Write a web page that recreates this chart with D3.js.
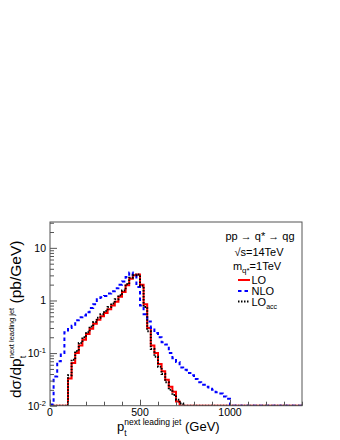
<!DOCTYPE html>
<html><head>
<meta charset="utf-8">
<script src="https://d3js.org/d3.v7.min.js"></script>
<style>
  body { margin: 0; background: #fff; }
  text { font-family: "Liberation Sans", Arial, sans-serif; fill: #000; }
</style>
</head>
<body>
<div id="chart"></div>
<script>
// histogram bins: 20 GeV wide, 0 .. 1400 GeV (lower edges)
var binLow = d3.range(0, 1400, 20);
var xMax = 1400;

// dsigma/dpt (pb/GeV), one value per bin
var lo = [0, 0, 0, 0, 0, 0.033, 0.065, 0.1, 0.14, 0.18,
  0.23, 0.29, 0.36, 0.43, 0.5, 0.58, 0.68, 0.8, 0.95, 1.18,
  1.45, 1.95, 2.6, 3.0, 3.1, 2.0, 0.85, 0.3, 0.14, 0.1,
  0.062, 0.045, 0.031, 0.023, 0.0185, 0.012, 0, 0, 0, 0,
  0, 0, 0, 0, 0, 0, 0, 0, 0, 0,
  0, 0, 0, 0, 0, 0, 0, 0, 0, 0,
  0, 0, 0, 0, 0, 0, 0, 0, 0, 0];

var nlo = [0.0105, 0.036, 0.07, 0.1, 0.25, 0.3, 0.33, 0.42, 0.48, 0.52,
  0.6, 0.72, 0.85, 1.05, 1.15, 1.22, 1.35, 1.5, 1.7, 2.0,
  2.3, 2.8, 3.4, 3.0, 1.8, 0.8, 0.55, 0.4, 0.3, 0.24,
  0.2, 0.16, 0.145, 0.1, 0.08, 0.068, 0.053, 0.048, 0.042, 0.038,
  0.032, 0.028, 0.025, 0.023, 0.021, 0.02, 0.018, 0.017, 0.015, 0.0135,
  0, 0, 0, 0, 0, 0, 0, 0, 0, 0,
  0, 0, 0, 0, 0, 0, 0, 0, 0, 0];

var loAcc = [0, 0, 0, 0, 0, 0.038, 0.075, 0.11, 0.155, 0.2,
  0.25, 0.32, 0.39, 0.47, 0.55, 0.63, 0.75, 0.88, 1.05, 1.25,
  1.55, 2.05, 2.7, 3.0, 3.1, 1.9, 0.75, 0.26, 0.12, 0.085,
  0.055, 0.04, 0.028, 0.02, 0.016, 0.013, 0.011, 0, 0, 0,
  0, 0, 0, 0, 0, 0, 0, 0, 0, 0,
  0, 0, 0, 0, 0, 0, 0, 0, 0, 0,
  0, 0, 0, 0, 0, 0, 0, 0, 0, 0];

var yMin = 0.01, yMax = 31;
var xTicks = [0, 500, 1000];
var xTickLabels = ["0", "500", "1000"];
var yTicks = [0.01, 0.1, 1, 10];
var yTickLabels = [["10", "-2"], ["10", "-1"], ["1", ""], ["10", ""]];

var W = 340, H = 440;
var frame = {left: 50, right: 302, top: 222, bottom: 405.7};

var svg = d3.select("#chart").append("svg")
    .attr("width", W)
    .attr("height", H);

var x = d3.scaleLinear().domain([0, xMax]).range([frame.left, frame.right]);
var y = d3.scaleLog().domain([yMin, yMax]).range([frame.bottom, frame.top]);

// minor tick positions
var yMinor = [];
[0.01, 0.1, 1, 10].forEach(function(d) {
  for (var k = 2; k <= 9; k++) if (d * k < yMax) yMinor.push(d * k);
});
var xMinor = d3.range(0, xMax + 1, 100).filter(function(d) { return xTicks.indexOf(d) < 0; });

svg.append("clipPath").attr("id", "clip")
  .append("rect")
    .attr("x", frame.left).attr("y", frame.top - 2)
    .attr("width", frame.right - frame.left).attr("height", frame.bottom - frame.top + 2);

// histograms
function histPoints(vals) {
  var pts = binLow.map(function(b, i) { return [b, Math.max(vals[i], yMin)]; });
  pts.push([xMax, Math.max(vals[vals.length - 1], yMin)]);
  return pts;
}
var line = d3.line()
    .x(function(d) { return x(d[0]); })
    .y(function(d) { return y(d[1]); })
    .curve(d3.curveStepAfter);

var series = [
  {vals: lo, color: "#ff0000", dash: null},
  {vals: nlo, color: "#0000ff", dash: "3.5,3"},
  {vals: loAcc, color: "#000000", dash: "1.5,1.5"}
];
var g = svg.append("g").attr("clip-path", "url(#clip)");
series.forEach(function(s) {
  g.append("path")
    .datum(histPoints(s.vals))
    .attr("fill", "none")
    .attr("stroke", s.color)
    .attr("stroke-width", 2)
    .attr("stroke-dasharray", s.dash)
    .attr("d", line);
});

// frame
svg.append("rect")
  .attr("x", frame.left).attr("y", frame.top)
  .attr("width", frame.right - frame.left).attr("height", frame.bottom - frame.top)
  .attr("fill", "none").attr("stroke", "#555").attr("stroke-width", 1);

// y axis ticks (inward)
var yAxis = svg.append("g").attr("transform", "translate(" + frame.left + ",0)");
yAxis.call(d3.axisLeft(y).tickValues(yTicks).tickSize(-7).tickFormat(""));
yAxis.append("g").call(d3.axisLeft(y).tickValues(yMinor).tickSize(-4).tickFormat(""));
yAxis.selectAll(".domain").remove();
yAxis.selectAll("line").attr("stroke", "#555");

yTicks.forEach(function(v, i) {
  var t = svg.append("text")
    .attr("x", frame.left - 4)
    .attr("y", y(v) + 4)
    .attr("text-anchor", "end")
    .style("font-size", "10.5px");
  t.append("tspan").text(yTickLabels[i][0]);
  if (yTickLabels[i][1]) {
    t.append("tspan").attr("dy", -4).style("font-size", "7.5px").text(yTickLabels[i][1]);
  }
});

// x axis ticks (inward)
var xAxis = svg.append("g").attr("transform", "translate(0," + frame.bottom + ")");
xAxis.call(d3.axisBottom(x).tickValues(xTicks).tickSize(-6).tickFormat(""));
xAxis.append("g").call(d3.axisBottom(x).tickValues(xMinor).tickSize(-4).tickFormat(""));
xAxis.selectAll(".domain").remove();
xAxis.selectAll("line").attr("stroke", "#555");

xTicks.forEach(function(v, i) {
  svg.append("text")
    .attr("x", x(v))
    .attr("y", frame.bottom + 10)
    .attr("text-anchor", "middle")
    .style("font-size", "10.5px")
    .text(xTickLabels[i]);
});

// x title
var xt = svg.append("text")
  .attr("x", 117).attr("y", 431)
  .style("font-size", "13px");
xt.append("tspan").text("p");
xt.append("tspan").attr("dy", 5).style("font-size", "8.5px").text("t");
xt.append("tspan").attr("dx", -2.4).attr("dy", -11).style("font-size", "8.5px").text("next leading jet");
xt.append("tspan").attr("dy", 6).text(" (GeV)");

// y title
var yt = svg.append("text")
  .attr("transform", "translate(21,398) rotate(-90)")
  .style("font-size", "15.5px");
yt.append("tspan").text("d\u03c3/dp");
yt.append("tspan").attr("dy", 5).style("font-size", "9px").text("t");
yt.append("tspan").attr("dx", -2.5).attr("dy", -12).style("font-size", "7.5px").text("next leading jet");
yt.append("tspan").attr("dy", 7).text("  (pb/GeV)");

// process text
svg.append("text").attr("x", 260).attr("y", 240).attr("text-anchor", "middle")
  .style("font-size", "11px").text("pp \u2192 q* \u2192 qg");
svg.append("text").attr("x", 259).attr("y", 256).attr("text-anchor", "middle")
  .style("font-size", "11px").text("\u221as=14TeV");
var mq = svg.append("text").attr("x", 257).attr("y", 270).attr("text-anchor", "middle")
  .style("font-size", "11px");
mq.append("tspan").text("m");
mq.append("tspan").attr("dy", 3).style("font-size", "8px").text("q*");
mq.append("tspan").attr("dy", -3).text("=1TeV");

// legend
var legendNames = [["LO", ""], ["NLO", ""], ["LO", "acc"]];
var legendY = [280, 291, 301.5];
series.forEach(function(s, i) {
  svg.append("line")
    .attr("x1", 238).attr("x2", 250)
    .attr("y1", legendY[i]).attr("y2", legendY[i])
    .attr("stroke", s.color).attr("stroke-width", 2)
    .attr("stroke-dasharray", s.dash);
  var t = svg.append("text").attr("x", 251.5).attr("y", legendY[i] + 4)
    .style("font-size", "11px");
  t.append("tspan").text(legendNames[i][0]);
  if (legendNames[i][1]) {
    t.append("tspan").attr("dy", 3).style("font-size", "7px").text(legendNames[i][1]);
  }
});
</script>
</body></html>
